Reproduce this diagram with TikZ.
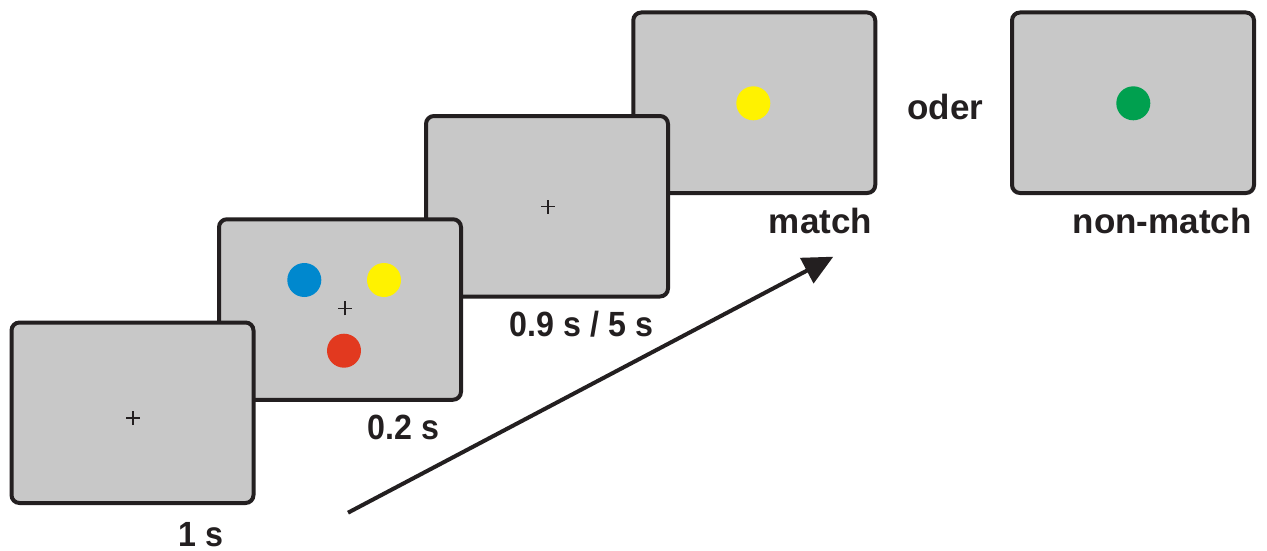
\documentclass[tikz,border=0pt]{standalone}
\usepackage{fontspec}
\setmainfont{Liberation Sans}
\newfontfamily\numfont[FakeStretch=0.92]{Liberation Sans}
\usetikzlibrary{arrows.meta}
\definecolor{scr}{HTML}{C8C8C8}
\definecolor{edge}{HTML}{231F20}
\definecolor{dblue}{HTML}{0088CE}
\definecolor{dyellow}{HTML}{FFF200}
\definecolor{dred}{HTML}{E2391F}
\definecolor{dgreen}{HTML}{00A04F}
\begin{document}
\begin{tikzpicture}[x=1pt,y=-1pt,
  screen/.style={draw=edge, fill=scr, line width=4pt, rounded corners=8pt,
    minimum width=242pt, minimum height=180.5pt, inner sep=0pt, outer sep=0pt},
  dot/.style={circle, fill=#1, minimum size=34pt, inner sep=0pt},
  lbl/.style={font=\bfseries\fontsize{35}{38}\selectfont, text=edge, inner sep=0pt, anchor=base},
  numlbl/.style={lbl, font=\numfont\bfseries\fontsize{35}{38}\selectfont},
  fixline/.style={line width=1.3pt, draw=edge}]
\useasboundingbox (0,0) rectangle (1267,551);
\fill[white] (0,0) rectangle (1267,551);
% screens, back to front
\node[screen] (s4) at (754.25,102.75) {};
\node[screen] (s3) at (547,206.25) {};
\node[screen] (s2) at (340,309.5) {};
\node[screen] (s1) at (132.5,412.75) {};
\node[screen] (s5) at (1133,102.75) {};
% fixation crosses
\coordinate (f1) at (133,418);
\coordinate (f2) at (345,308.3);
\coordinate (f3) at (548,206.7);
\foreach \f in {f1,f2,f3}{
  \draw[fixline] ([xshift=-7pt]\f) -- ([xshift=7pt]\f);
  \draw[fixline] ([yshift=-7pt]\f) -- ([yshift=7pt]\f);
}
% coloured dots
\node[dot=dblue] (b2) at (304.3,280) {};
\node[dot=dyellow] (y2) at (384,280) {};
\node[dot=dred] (r2) at (344,350.7) {};
\node[dot=dyellow] (y4) at (753.3,103.3) {};
\node[dot=dgreen] (g5) at (1133.3,103.3) {};
% labels
\node[numlbl] (t1) at (201,546) {1 s};
\node[numlbl] (t2) at (403.5,439) {0.2 s};
\node[numlbl] (t3) at (581.5,336.7) {0.9 s / 5 s};
\node[lbl] (t4) at (820.5,233) {match};
\node[lbl] (t5) at (1162.2,233) {non-match};
\node[lbl] (t6) at (945.5,119) {oder};
% time arrow
\coordinate (a0) at (348,512.7);
\coordinate (a1) at (833.3,256.7);
\draw[draw=edge, line width=4pt, -{Triangle[length=30pt,width=28pt]}] (a0) -- (a1);
\end{tikzpicture}
\end{document}
